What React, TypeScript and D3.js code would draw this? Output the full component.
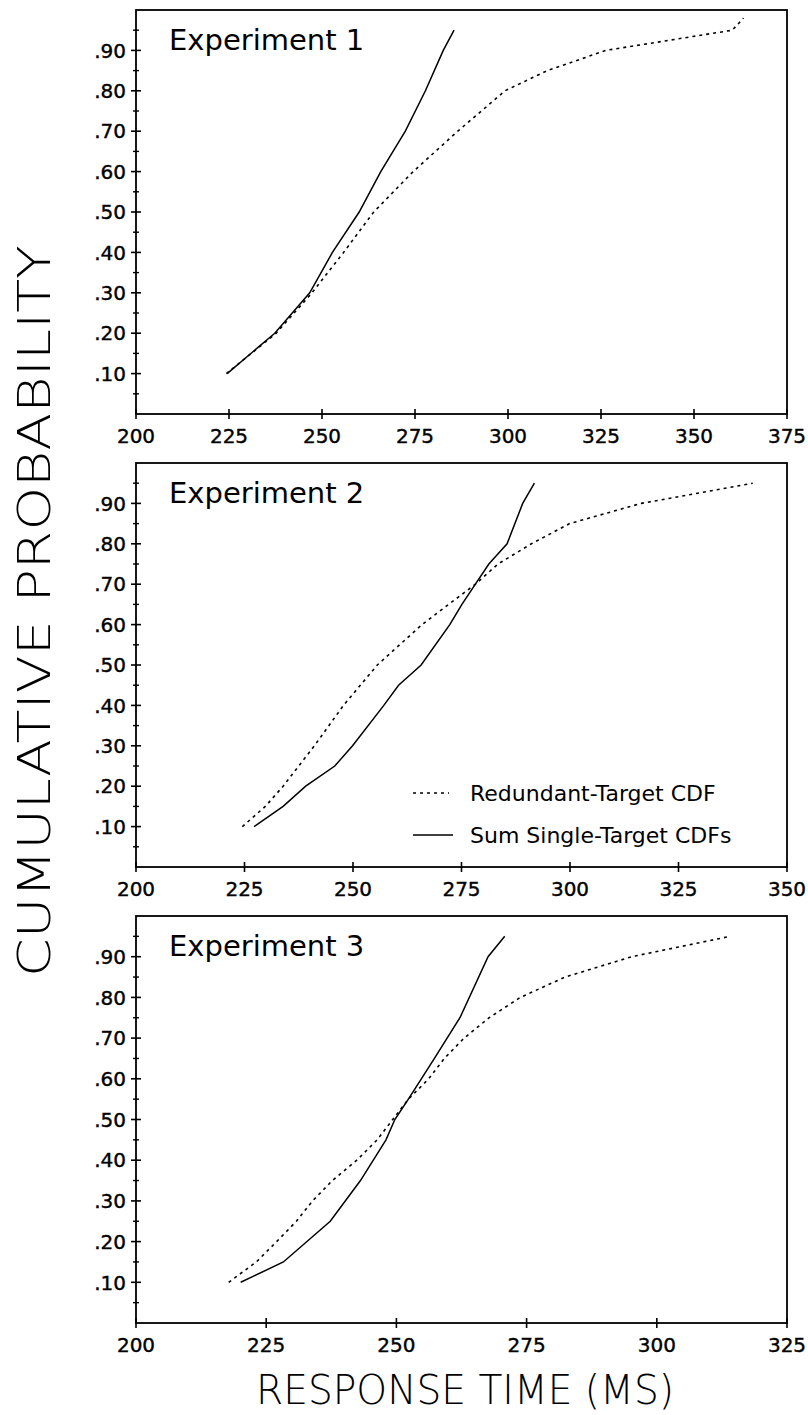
import { useEffect, useRef } from 'react'
import * as d3 from 'd3'

// cumulative probabilities (y) and response times (x, ms)
const exp1RedundantP = [0.1, 0.2, 0.3, 0.4, 0.5, 0.6, 0.7, 0.8, 0.85, 0.9, 0.95, 0.98]
const exp1RedundantRT = [224.3, 237.7, 247.3, 255.8, 263.9, 274.5, 286.5, 299.2, 310.6, 326.3, 360.3, 363.3]
const exp1SumP = [0.1, 0.2, 0.3, 0.4, 0.5, 0.6, 0.7, 0.8, 0.9, 0.95]
const exp1SumRT = [224.5, 237.3, 246.7, 252.8, 260.0, 265.8, 272.4, 277.8, 282.6, 285.5]

const exp2RedundantP = [0.1, 0.15, 0.2, 0.3, 0.4, 0.5, 0.6, 0.7, 0.75, 0.8, 0.85, 0.9, 0.95]
const exp2RedundantRT = [224.5, 229.8, 233.9, 241.1, 247.8, 255.6, 265.9, 278.2, 283.4, 291.1, 299.9, 316.4, 342.1]
const exp2SumP = [0.1, 0.15, 0.2, 0.25, 0.3, 0.4, 0.45, 0.5, 0.6, 0.65, 0.7, 0.75, 0.8, 0.9, 0.95]
const exp2SumRT = [227.2, 233.9, 239.1, 245.8, 249.9, 257.1, 260.5, 265.7, 272.3, 275.1, 278.2, 281.3, 285.5, 289.1, 291.8]

const exp3RedundantP = [0.1, 0.15, 0.2, 0.25, 0.3, 0.35, 0.4, 0.45, 0.5, 0.55, 0.6, 0.65, 0.7, 0.75, 0.8, 0.85, 0.9, 0.95]
const exp3RedundantRT = [217.8, 223.1, 227.0, 230.8, 233.9, 237.7, 242.4, 246.3, 249.3, 252.3, 256.2, 259.2, 263.0, 267.8, 273.8, 282.4, 295.2, 314.1]
const exp3SumP = [0.1, 0.15, 0.25, 0.35, 0.45, 0.5, 0.55, 0.65, 0.75, 0.9, 0.95]
const exp3SumRT = [220.1, 228.3, 237.3, 243.1, 248.0, 249.7, 252.3, 257.3, 262.2, 267.6, 270.8]

const yTicks = [0.1, 0.2, 0.3, 0.4, 0.5, 0.6, 0.7, 0.8, 0.9]
const yMinorTicks = [0.05, 0.15, 0.25, 0.35, 0.45, 0.55, 0.65, 0.75, 0.85, 0.95]
const xMaxes = [375, 350, 325]
const titles = ['Experiment 1', 'Experiment 2', 'Experiment 3']
const legendLabels = ['Redundant-Target CDF', 'Sum Single-Target CDFs']

const panels = [
  { title: titles[0], xMax: xMaxes[0], red: [exp1RedundantRT, exp1RedundantP], sum: [exp1SumRT, exp1SumP], top: 10, bottom: 414 },
  { title: titles[1], xMax: xMaxes[1], red: [exp2RedundantRT, exp2RedundantP], sum: [exp2SumRT, exp2SumP], top: 463, bottom: 867 },
  { title: titles[2], xMax: xMaxes[2], red: [exp3RedundantRT, exp3RedundantP], sum: [exp3SumRT, exp3SumP], top: 916, bottom: 1323 },
]

export default function App() {
  const svgRef = useRef<SVGSVGElement>(null)
  const width = 808
  const height = 1415

  useEffect(() => {
    if (!svgRef.current) return
    const svg = d3.select(svgRef.current)
    svg.selectAll('*').remove()

    const left = 136
    const right = 787
    const font = "'DejaVu Sans', Verdana, sans-serif"

    panels.forEach((panel, i) => {
      const x = d3.scaleLinear().domain([200, panel.xMax]).range([left, right])
      const y = d3.scaleLinear().domain([0, 1]).range([panel.bottom, panel.top])
      const g = svg.append('g')

      // frame
      g.append('rect')
        .attr('x', left).attr('y', panel.top)
        .attr('width', right - left).attr('height', panel.bottom - panel.top)
        .attr('fill', 'none').attr('stroke', '#000').attr('stroke-width', 1.8)

      // x ticks
      const xt = d3.range(200, panel.xMax + 1, 25)
      g.selectAll('.xtick').data(xt).enter().append('line')
        .attr('x1', d => x(d)).attr('x2', d => x(d))
        .attr('y1', panel.bottom - 5).attr('y2', panel.bottom + 5)
        .attr('stroke', '#000').attr('stroke-width', 1.6)
      g.selectAll('.xlab').data(xt).enter().append('text')
        .attr('x', d => x(d)).attr('y', panel.bottom + 29)
        .attr('text-anchor', 'middle')
        .attr('font-family', font).attr('font-size', 20)
        .attr('stroke', '#000').attr('stroke-width', 0.4)
        .text(d => String(d))

      // y ticks
      g.selectAll('.ytick').data(yTicks).enter().append('line')
        .attr('x1', left - 5).attr('x2', left + 5)
        .attr('y1', d => y(d)).attr('y2', d => y(d))
        .attr('stroke', '#000').attr('stroke-width', 1.6)
      g.selectAll('.yminor').data(yMinorTicks).enter().append('line')
        .attr('x1', left - 3).attr('x2', left + 3)
        .attr('y1', d => y(d)).attr('y2', d => y(d))
        .attr('stroke', '#000').attr('stroke-width', 1.4)
      g.selectAll('.ylab').data(yTicks).enter().append('text')
        .attr('x', left - 10).attr('y', d => y(d))
        .attr('dy', '0.36em')
        .attr('text-anchor', 'end')
        .attr('font-family', font).attr('font-size', 20)
        .attr('stroke', '#000').attr('stroke-width', 0.4)
        .text(d => d3.format('.2f')(d).replace(/^0/, ''))

      // panel title
      g.append('text')
        .attr('x', 169).attr('y', panel.top + 40)
        .attr('font-family', font).attr('font-size', 29)
        .text(panel.title)

      const drawSeries = (rt: number[], p: number[], dashed: boolean) => {
        const pts = rt.map((r, k) => [r, p[k]] as [number, number])
        g.append('path')
          .datum(pts)
          .attr('d', d3.line<[number, number]>().x(d => x(d[0])).y(d => y(d[1])))
          .attr('fill', 'none')
          .attr('stroke', '#000')
          .attr('stroke-width', dashed ? 1.6 : 1.5)
          .attr('stroke-dasharray', dashed ? '3,4' : null)
      }
      drawSeries(panel.red[0], panel.red[1], true)
      drawSeries(panel.sum[0], panel.sum[1], false)

      if (i === 1) {
        const lg = g.append('g')
        ;[0, 1].forEach(k => {
          const ly = 793 + k * 42
          lg.append('line')
            .attr('x1', 413).attr('x2', k === 0 ? 449 : 453)
            .attr('y1', ly).attr('y2', ly)
            .attr('stroke', '#000').attr('stroke-width', 1.5)
            .attr('stroke-dasharray', k === 0 ? '3,4' : null)
          lg.append('text')
            .attr('x', 470).attr('y', ly).attr('dy', '0.36em')
            .attr('font-family', font).attr('font-size', 22)
            .text(legendLabels[k])
        })
      }
    })

    // axis titles
    svg.append('text')
      .attr('transform', 'translate(50,611) rotate(-90)')
      .attr('text-anchor', 'middle')
      .attr('font-family', font).attr('font-size', 45).attr('font-weight', 200)
      .attr('textLength', 732).attr('lengthAdjust', 'spacingAndGlyphs')
      .text('CUMULATIVE PROBABILITY')

    svg.append('text')
      .attr('x', 465).attr('y', 1404)
      .attr('text-anchor', 'middle')
      .attr('font-family', font).attr('font-size', 40).attr('font-weight', 200)
      .attr('textLength', 418).attr('lengthAdjust', 'spacingAndGlyphs')
      .text('RESPONSE TIME (MS)')
  }, [])

  return (
    <svg
      ref={svgRef}
      width={width}
      height={height}
      style={{ position: 'absolute', left: 0, top: 0, background: '#fff' }}
    />
  )
}
